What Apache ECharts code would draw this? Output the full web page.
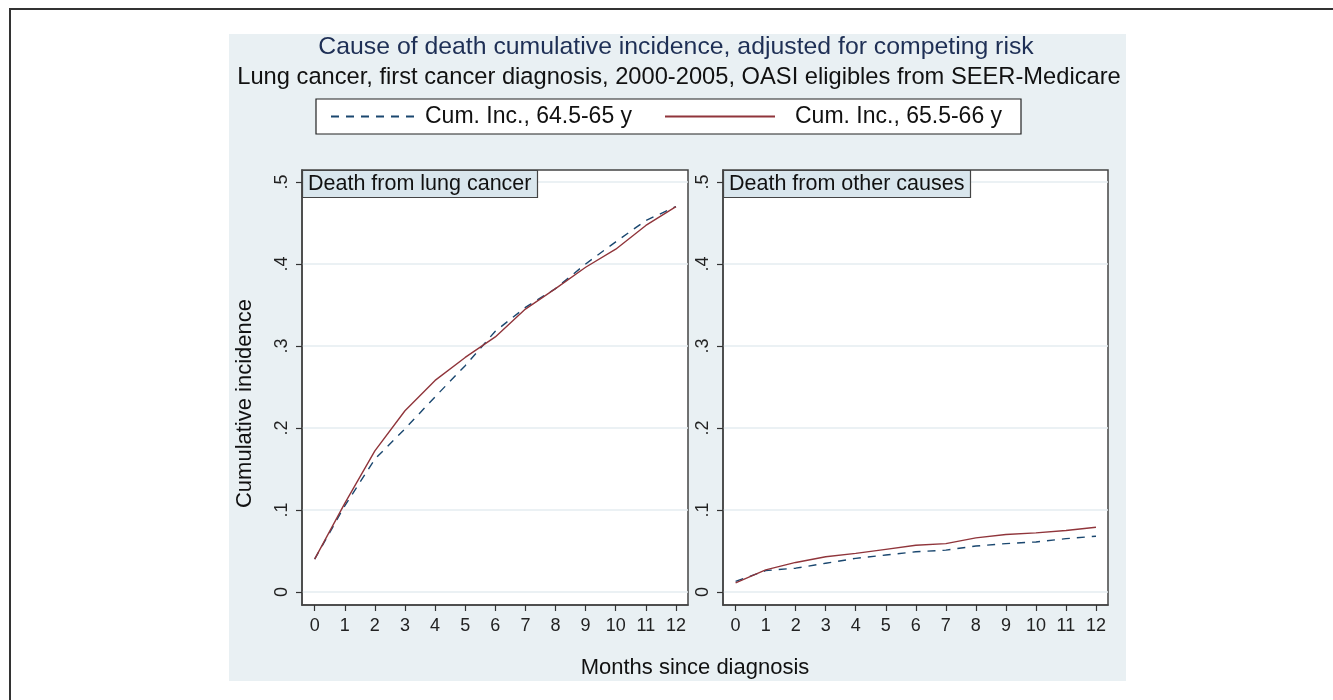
<!DOCTYPE html>
<html>
<head>
<meta charset="utf-8">
<script src="https://cdn.jsdelivr.net/npm/echarts@6/dist/echarts.min.js"></script>
<style>
  html, body { margin: 0; padding: 0; background: #fff; }
  #chart { width: 1333px; height: 700px; }
</style>
</head>
<body>
<div id="chart"></div>
<script>
// months since diagnosis
var months = [0, 1, 2, 3, 4, 5, 6, 7, 8, 9, 10, 11, 12];
var yTicks = [0, 0.1, 0.2, 0.3, 0.4, 0.5];

// death from lung cancer
var lungYoung = [0.040, 0.105, 0.162, 0.199, 0.238, 0.276, 0.318, 0.347, 0.370, 0.400, 0.427, 0.453, 0.470];
var lungOld   = [0.040, 0.108, 0.172, 0.221, 0.258, 0.286, 0.311, 0.345, 0.370, 0.396, 0.418, 0.447, 0.470];
// death from other causes
var otherYoung = [0.013, 0.026, 0.029, 0.035, 0.041, 0.045, 0.049, 0.051, 0.056, 0.059, 0.061, 0.065, 0.068];
var otherOld   = [0.011, 0.027, 0.036, 0.043, 0.047, 0.052, 0.057, 0.059, 0.066, 0.070, 0.072, 0.075, 0.079];

var nameYoung = 'Cum. Inc., 64.5-65 y';
var nameOld = 'Cum. Inc., 65.5-66 y';

var FONT = 'Liberation Sans, Arial, sans-serif';
var navy = '#1a476f';
var maroon = '#90353b';

function pairs(vals) {
  return months.map(function (m, i) { return [m, vals[i]]; });
}

var axisLineStyle = { show: true, onZero: false, lineStyle: { color: '#444', width: 1.5 } };

function xAxisOf(idx) {
  return {
    type: 'value', gridIndex: idx, min: -0.42, max: 12.4, position: 'bottom',
    axisLine: axisLineStyle,
    axisTick: { show: true, inside: false, length: 6, customValues: months, lineStyle: { color: '#333', width: 1.2 } },
    axisLabel: { customValues: months, margin: 12, fontSize: 18, color: '#222', fontFamily: FONT },
    splitLine: { show: false }
  };
}

function yAxisOf(idx) {
  var ax = {
    type: 'value', gridIndex: idx, min: -0.0159, max: 0.5146, position: 'left',
    axisLine: axisLineStyle,
    axisTick: { show: true, inside: false, length: 6, customValues: yTicks, lineStyle: { color: '#333', width: 1.2 } },
    axisLabel: {
      customValues: yTicks, rotate: 90, margin: 11, fontSize: 18, color: '#222', fontFamily: FONT,
      formatter: function (v) { return v === 0 ? '0' : v.toFixed(1).replace(/^0/, ''); }
    },
    splitLine: { show: true, lineStyle: { color: '#e4edf1', width: 1.5 } }
  };
  if (idx === 0) {
    ax.name = 'Cumulative incidence';
    ax.nameLocation = 'middle';
    ax.nameGap = 46;
    ax.nameTextStyle = { fontSize: 22, color: '#111', fontFamily: FONT, padding: [0, 32, 0, 0] };
  }
  return ax;
}

function lineSeries(name, vals, idx, dashed) {
  return {
    name: name, type: 'line', xAxisIndex: idx, yAxisIndex: idx,
    data: pairs(vals), symbol: 'none', smooth: false, silent: true,
    lineStyle: { color: dashed ? navy : maroon, width: 1.4, type: dashed ? [8, 7] : 'solid' },
    itemStyle: { color: dashed ? navy : maroon }
  };
}

var headerStyle = {
  backgroundColor: '#d9e6ed', borderColor: '#444', borderWidth: 1.2, padding: [3, 6],
  textStyle: { fontSize: 21.5, fontWeight: 'normal', color: '#111', fontFamily: FONT, lineHeight: 22 }
};

// legend keys: line only, no marker
var legendBase = {
  top: 105, padding: 0, itemHeight: 12, selectedMode: false,
  itemStyle: { opacity: 0, borderWidth: 0, color: 'rgba(0,0,0,0)' }
};

var option = {
  backgroundColor: '#fff',
  animation: false,
  title: [
    Object.assign({ text: 'Death from lung cancer', left: 302, top: 170, z: 10 }, headerStyle),
    Object.assign({ text: 'Death from other causes', left: 723, top: 170, z: 10 }, headerStyle)
  ],
  legend: [
    Object.assign({
      data: [nameYoung], left: 330, itemWidth: 88,
      textStyle: { fontSize: 23, color: '#111', fontFamily: FONT, lineHeight: 22, padding: [0, 0, 0, 1] }
    }, legendBase),
    Object.assign({
      data: [nameOld], left: 664, itemWidth: 110,
      textStyle: { fontSize: 23, color: '#111', fontFamily: FONT, lineHeight: 22, padding: [0, 0, 0, 15] }
    }, legendBase)
  ],
  graphic: [
    { type: 'rect', z: -10, shape: { x: 229, y: 34, width: 897, height: 647 }, style: { fill: '#e9f0f3' } },
    { type: 'polyline', z: -5, shape: { points: [[10, 700], [10, 9], [1333, 9]] }, style: { stroke: '#333', lineWidth: 2, fill: null } },
    { type: 'rect', z: 1, shape: { x: 316, y: 99, width: 705, height: 35 }, style: { fill: '#fff', stroke: '#222', lineWidth: 1.2 } },
    { type: 'text', x: 676, y: 47, style: { text: 'Cause of death cumulative incidence, adjusted for competing risk',
        fontSize: 24.8, fontFamily: FONT, fill: '#1e2f55', textAlign: 'center', textVerticalAlign: 'middle' } },
    { type: 'text', x: 679, y: 77, style: { text: 'Lung cancer, first cancer diagnosis, 2000-2005, OASI eligibles from SEER-Medicare',
        fontSize: 23.7, fontFamily: FONT, fill: '#111', textAlign: 'center', textVerticalAlign: 'middle' } },
    { type: 'text', x: 695, y: 668, style: { text: 'Months since diagnosis',
        fontSize: 22, fontFamily: FONT, fill: '#111', textAlign: 'center', textVerticalAlign: 'middle' } }
  ],
  grid: [
    { left: 302, top: 170, width: 386, height: 435, show: true, backgroundColor: '#fff', borderColor: '#444', borderWidth: 1.5, containLabel: false, outerBoundsMode: 'none' },
    { left: 723, top: 170, width: 385, height: 435, show: true, backgroundColor: '#fff', borderColor: '#444', borderWidth: 1.5, containLabel: false, outerBoundsMode: 'none' }
  ],
  xAxis: [xAxisOf(0), xAxisOf(1)],
  yAxis: [yAxisOf(0), yAxisOf(1)],
  series: [
    lineSeries(nameYoung, lungYoung, 0, true),
    lineSeries(nameOld, lungOld, 0, false),
    lineSeries(nameYoung, otherYoung, 1, true),
    lineSeries(nameOld, otherOld, 1, false)
  ]
};

var chart = echarts.init(document.getElementById('chart'));
chart.setOption(option);
</script>
</body>
</html>
